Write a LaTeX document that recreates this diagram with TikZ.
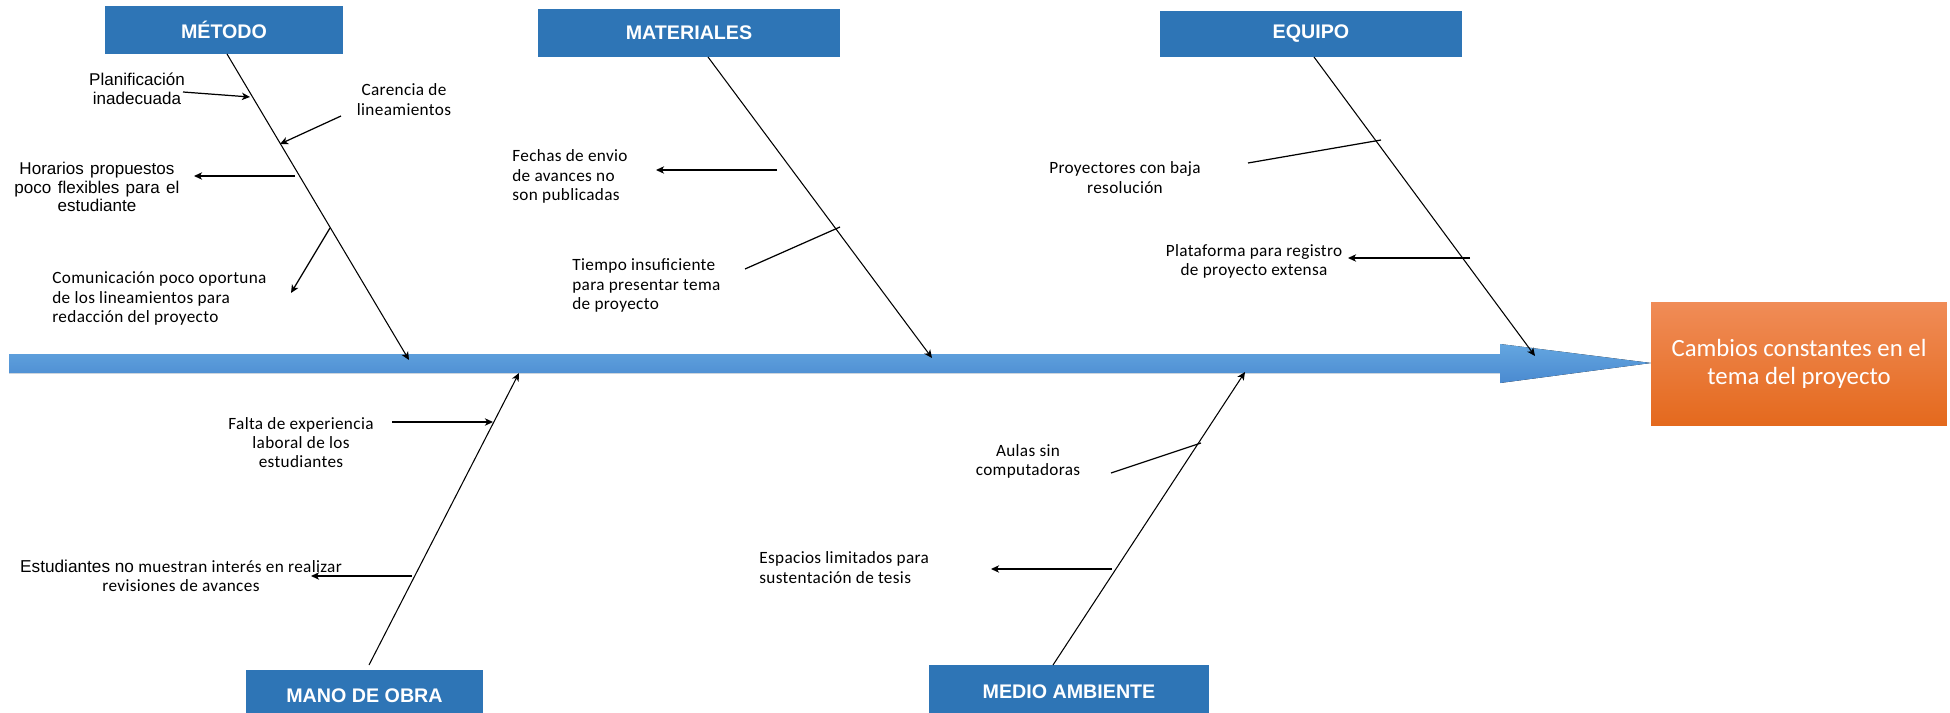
\documentclass[tikz,border=0pt]{standalone}
\usepackage{fontspec}
\setmainfont{Liberation Sans}
\newfontfamily\arialf{Liberation Sans}
\newfontfamily\calib{Carlito}
\newfontfamily\calibsp[LetterSpace=2]{Carlito}
\usetikzlibrary{arrows.meta,calc}
\definecolor{catblue}{HTML}{2E75B6}
\definecolor{spinetop}{HTML}{64A6E0}
\definecolor{spinebot}{HTML}{4A8AD0}
\definecolor{efftop}{HTML}{F08C57}
\definecolor{effmid}{HTML}{F07A2C}
\definecolor{effbot}{HTML}{E4691D}
\newlength\px
\setlength\px{0.02cm}
\begin{document}
\begin{tikzpicture}[x=0.02cm,y=-0.02cm,
  cat/.style={fill=catblue, text=white, inner sep=0pt,
    font=\arialf\bfseries\fontsize{11.2}{13}\selectfont},
  causeA/.style={font=\arialf\fontsize{9.7}{10.6}\selectfont, inner sep=0pt},
  causeC/.style={font=\calibsp\fontsize{9.8}{11}\selectfont, inner sep=0pt},
  tip/.style={-{Stealth[length=4.6pt,width=4.2pt,inset=1.3pt]}},
  bone/.style={line width=0.6pt, tip},
  twig/.style={line width=0.7pt},
  twigarrow/.style={twig, tip}]
\clip (0,0) rectangle (1950,713);
\fill[white] (0,0) rectangle (1950,713);

% main spine with its arrow head
\fill[top color=spinetop, bottom color=spinebot]
  (9,354) -- (1500,354) -- (1500,344) -- (1651,363) -- (1500,383)
  -- (1500,373) -- (9,373) -- cycle;

% effect
\node[top color=efftop, middle color=effmid, bottom color=effbot, text=white,
  inner sep=0pt, minimum width=5.92cm, minimum height=2.48cm, align=center,
  font=\calib\fontsize{14.1}{15.9}\selectfont] (efecto) at (1799,364)
  {Cambios constantes en el\\tema del proyecto};

% category boxes
\node[cat, minimum width=4.76cm, minimum height=0.96cm] (metodo) at (224,30) {MÉTODO};
\node[cat, minimum width=6.04cm, minimum height=0.96cm] (materiales) at (689,33) {MATERIALES};
\node[cat, minimum width=6.04cm, minimum height=0.92cm] (equipo) at (1311,34) {EQUIPO};
\node[cat, minimum width=4.74cm, minimum height=1.04cm] (manoobra) at (364.5,696) {MANO DE OBRA};
\node[cat, minimum width=5.6cm, minimum height=1.08cm] (medio) at (1069,692) {MEDIO AMBIENTE};

% bone roots and tips on the spine
\coordinate (rMet) at (227,54);   \coordinate (tMet) at (409,360);
\coordinate (rMat) at (708,57);   \coordinate (tMat) at (932,358);
\coordinate (rEqu) at (1314,57);  \coordinate (tEqu) at (1535,356);
\coordinate (rMan) at (369,665);  \coordinate (tMan) at (519,373);
\coordinate (rMed) at (1053,665); \coordinate (tMed) at (1245,372);

\draw[bone] (rMet) -- (tMet);
\draw[bone] (rMat) -- (tMat);
\draw[bone] (rEqu) -- (tEqu);
\draw[bone] (rMan) -- (tMan);
\draw[bone] (rMed) -- (tMed);

% causes
\node[causeA, align=center] (planif) at (137,88.5) {Planificación\\inadecuada};
\node[causeC, align=center] (carencia) at (404,99.5) {Carencia de\\lineamientos};
\node[causeA, align=center] (horarios) at (97,187)
  {\makebox[155\px][s]{Horarios propuestos}\\\makebox[165\px][s]{poco flexibles para el}\\estudiante};
\node[causeC, align=left, anchor=west] (comunic) at (52,298.5)
  {Comunicación poco oportuna\\de los lineamientos para\\redacción del proyecto};
\node[causeC, align=left, anchor=west] (fechas) at (512,176.5)
  {Fechas de envio\\de avances no\\son publicadas};
\node[causeC, align=left, anchor=west] (tiempo) at (572,285.5)
  {Tiempo insuficiente\\para presentar tema\\de proyecto};
\node[causeC, align=center] (proyect) at (1125,177.5) {Proyectores con baja\\resolución};
\node[causeC, align=center] (plataf) at (1254,261.5) {Plataforma para registro\\de proyecto extensa};
\node[causeC, align=center] (falta) at (301,442.5) {Falta de experiencia\\laboral de los\\estudiantes};
\node[causeC, align=center] (estud) at (181,575.5)
  {{\arialf Estudiantes no} muestran interés en realizar\\revisiones de avances};
\node[causeC, align=center] (aulas) at (1028,461.5) {Aulas sin\\computadoras};
\node[causeC, align=left, anchor=west] (espacios) at (759,567.5)
  {Espacios limitados para\\sustentación de tesis};

% cause connectors
\coordinate (a1) at (183,92);   \coordinate (b1) at (250,97);
\coordinate (a2) at (341,116);  \coordinate (b2) at (280,144);
\coordinate (a3) at (295,176);  \coordinate (b3) at (194,176);
\coordinate (a4) at (330,228);  \coordinate (b4) at (291,293);
\coordinate (a5) at (777,170);  \coordinate (b5) at (656,170);
\coordinate (a6) at (745,269);  \coordinate (b6) at (840,227);
\coordinate (a7) at (1248,163); \coordinate (b7) at (1381,140);
\coordinate (a8) at (1470,258); \coordinate (b8) at (1348,258);
\coordinate (a9) at (392,422);  \coordinate (b9) at (493,422);
\coordinate (a10) at (412,576); \coordinate (b10) at (311,576);
\coordinate (a11) at (1111,473); \coordinate (b11) at (1201,443);
\coordinate (a12) at (1112,569); \coordinate (b12) at (991,569);

\draw[twigarrow] (a1) -- (b1);
\draw[twigarrow] (a2) -- (b2);
\draw[twigarrow] (a3) -- (b3);
\draw[twigarrow] (a4) -- (b4);
\draw[twigarrow] (a5) -- (b5);
\draw[twig] (a6) -- (b6);
\draw[twig] (a7) -- (b7);
\draw[twigarrow] (a8) -- (b8);
\draw[twigarrow] (a9) -- (b9);
\draw[twigarrow] (a10) -- (b10);
\draw[twig] (a11) -- (b11);
\draw[twigarrow] (a12) -- (b12);
\end{tikzpicture}
\end{document}
